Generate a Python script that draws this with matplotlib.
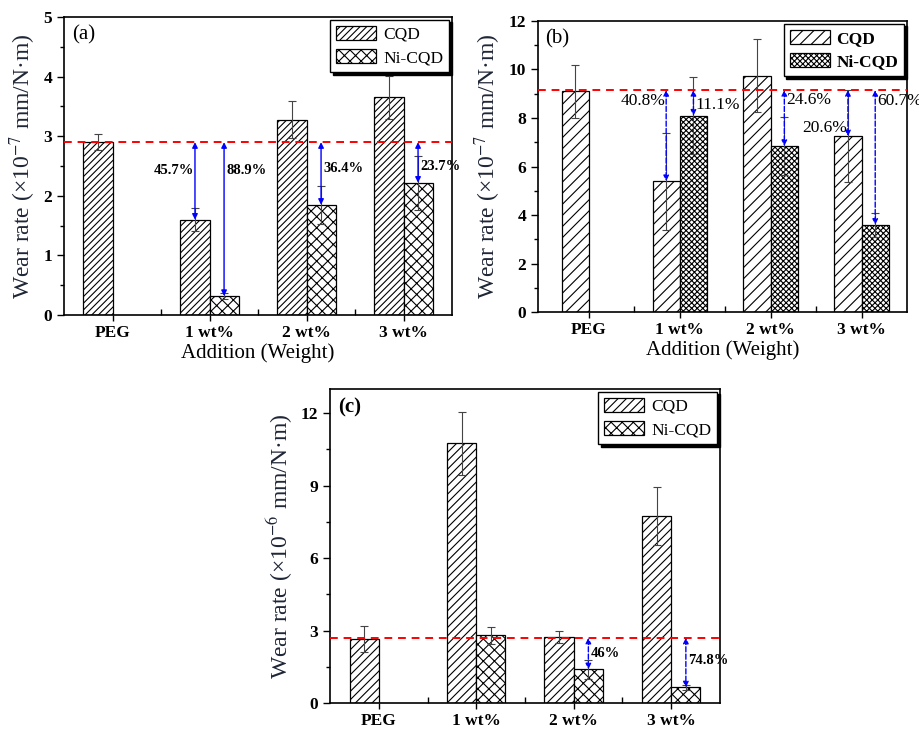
# Wear rate bar charts, three panels (a), (b), (c)

import numpy as np
import matplotlib
matplotlib.use('Agg')
import matplotlib.pyplot as plt
from matplotlib.ticker import MultipleLocator, FixedLocator

plt.rcParams['font.family'] = ['Liberation Serif', 'DejaVu Serif']
plt.rcParams['mathtext.fontset'] = 'stix'
plt.rcParams['hatch.linewidth'] = 0.8

categories = ['PEG', '1 wt%', '2 wt%', '3 wt%']

# panel (a)
cqd_a = [2.90, 1.60, 3.28, 3.65]
cqd_err_a = [0.13, 0.19, 0.31, 0.36]
ni_a = [0.32, 1.85, 2.22]
ni_err_a = [0.05, 0.32, 0.45]
base_a = 2.9
arrows_a = [(1, 'cqd', '45.7%', 'left', 2.43), (1, 'ni', '88.9%', 'right', 2.43),
            (2, 'ni', '36.4%', 'right', 2.46), (3, 'ni', '23.7%', 'right', 2.5)]

# panel (b)
cqd_b = [9.10, 5.40, 9.75, 7.25]
cqd_err_b = [1.10, 2.00, 1.50, 1.90]
ni_b = [8.10, 6.85, 3.60]
ni_err_b = [1.60, 1.20, 0.50]
base_b = 9.15
arrows_b = [(1, 'cqd', '40.8%', 'left', 8.72), (1, 'ni', '11.1%', 'right', 8.55),
            (2, 'ni', '24.6%', 'right', 8.75), (3, 'cqd', '20.6%', 'left', 7.6),
            (3, 'ni', '60.7%', 'right', 8.72)]

# panel (c)
cqd_c = [2.65, 10.75, 2.75, 7.75]
cqd_err_c = [0.55, 1.30, 0.25, 1.20]
ni_c = [2.80, 1.40, 0.65]
ni_err_c = [0.35, 0.40, 0.10]
base_c = 2.7
arrows_c = [(2, 'ni', '46%', 'right', 2.07), (3, 'ni', '74.8%', 'right', 1.74)]

width = 0.3
ylab_color = '#1f2636'


def draw_panel(ax, cqd, cqd_err, ni, ni_err, base, arrows, ylim, major, tag,
               exp, cqd_hatch, ni_hatch, bold_legend, pct_size, pct_weight,
               arrow_ls, xlabel=True, xlim=(-0.5, 3.5)):
    x = np.arange(len(categories))
    ax.bar(x - width / 2, cqd, width, color='white', edgecolor='black',
           hatch=cqd_hatch, linewidth=0.9, label='CQD', zorder=2)
    ax.bar(x[1:] + width / 2, ni, width, color='white', edgecolor='black',
           hatch=ni_hatch, linewidth=0.9, label='Ni-CQD', zorder=2)
    ax.errorbar(x - width / 2, cqd, yerr=cqd_err, fmt='none', ecolor='#444444',
                elinewidth=0.8, capsize=3, capthick=0.8, zorder=3)
    ax.errorbar(x[1:] + width / 2, ni, yerr=ni_err, fmt='none', ecolor='#444444',
                elinewidth=0.8, capsize=3, capthick=0.8, zorder=3)
    ax.axhline(base, color='red', lw=1.4, ls=(0, (4, 3)), zorder=4)

    for i, which, txt, side, ty in arrows:
        if which == 'cqd':
            xa, yb = i - width / 2, cqd[i]
        else:
            xa, yb = i + width / 2, ni[i - 1]
        ax.annotate('', xy=(xa, yb), xytext=(xa, base),
                    arrowprops=dict(arrowstyle='<|-|>', color='blue', lw=1,
                                    ls=arrow_ls, mutation_scale=8,
                                    shrinkA=0, shrinkB=0), zorder=5)
        if side == 'left':
            ax.text(xa - 0.01, ty, txt, ha='right', va='center',
                    fontsize=pct_size, fontweight=pct_weight, zorder=6)
        else:
            ax.text(xa + 0.02, ty, txt, ha='left', va='center',
                    fontsize=pct_size, fontweight=pct_weight, zorder=6,
                    clip_on=False)

    ax.set_xlim(*xlim)
    ax.set_ylim(*ylim)
    ax.set_xticks(x)
    ax.set_xticklabels(categories, fontsize=12.5, fontweight='bold')
    ax.xaxis.set_minor_locator(FixedLocator(x[:-1] + 0.5))
    ax.yaxis.set_major_locator(MultipleLocator(major))
    ax.yaxis.set_minor_locator(MultipleLocator(major / 2))
    for lab in ax.get_yticklabels():
        lab.set_fontsize(12.5)
        lab.set_fontweight('bold')
    ax.tick_params(axis='x', which='major', direction='out', length=4, width=1)
    ax.tick_params(axis='x', which='minor', direction='in', length=4, width=1)
    ax.tick_params(axis='y', which='major', direction='out', length=5, width=1)
    ax.tick_params(axis='y', which='minor', direction='out', length=3, width=1)
    for s in ax.spines.values():
        s.set_linewidth(1.2)

    ax.set_ylabel('Wear rate (×10$^{%s}$ mm/N·m)' % exp, fontsize=17,
                  color=ylab_color, labelpad=4)
    if xlabel:
        ax.set_xlabel('Addition (Weight)', fontsize=15, labelpad=1)

    ax.text(0.02, 0.94, tag, transform=ax.transAxes, fontsize=15,
            fontweight='bold' if tag == '(c)' else 'normal', va='center')

    leg = ax.legend(loc='upper right', frameon=True, fancybox=False,
                    shadow={'color': 'black', 'alpha': 1}, borderaxespad=0.15,
                    handlelength=2.3, handleheight=0.9, borderpad=0.35,
                    labelspacing=0.35, handletextpad=0.4,
                    prop={'size': 12.5, 'weight': 'bold' if bold_legend else 'normal'})
    leg.get_frame().set_edgecolor('black')
    leg.get_frame().set_linewidth(1)
    leg.set_zorder(10)


fig = plt.figure(figsize=(9.2, 7.34), dpi=100)
ax_a = fig.add_axes([0.0696, 0.5708, 0.4217, 0.406])
ax_b = fig.add_axes([0.5848, 0.5749, 0.4011, 0.3965])
ax_c = fig.add_axes([0.3587, 0.0422, 0.4239, 0.4278])

draw_panel(ax_a, cqd_a, cqd_err_a, ni_a, ni_err_a, base_a, arrows_a, (0, 5), 1,
           '(a)', '-7', '/////', 'xxx', False, 10.5, 'bold', '-')
draw_panel(ax_b, cqd_b, cqd_err_b, ni_b, ni_err_b, base_b, arrows_b, (0, 12), 2,
           '(b)', '-7', '///', 'xxxxxx', True, 12.5, 'normal', '--',
           xlim=(-0.56, 3.5))
draw_panel(ax_c, cqd_c, cqd_err_c, ni_c, ni_err_c, base_c, arrows_c, (0, 13), 3,
           '(c)', '-6', '////', 'xxx', False, 10.5, 'bold', '--', xlabel=False)

fig.savefig('out.png', dpi=100)
